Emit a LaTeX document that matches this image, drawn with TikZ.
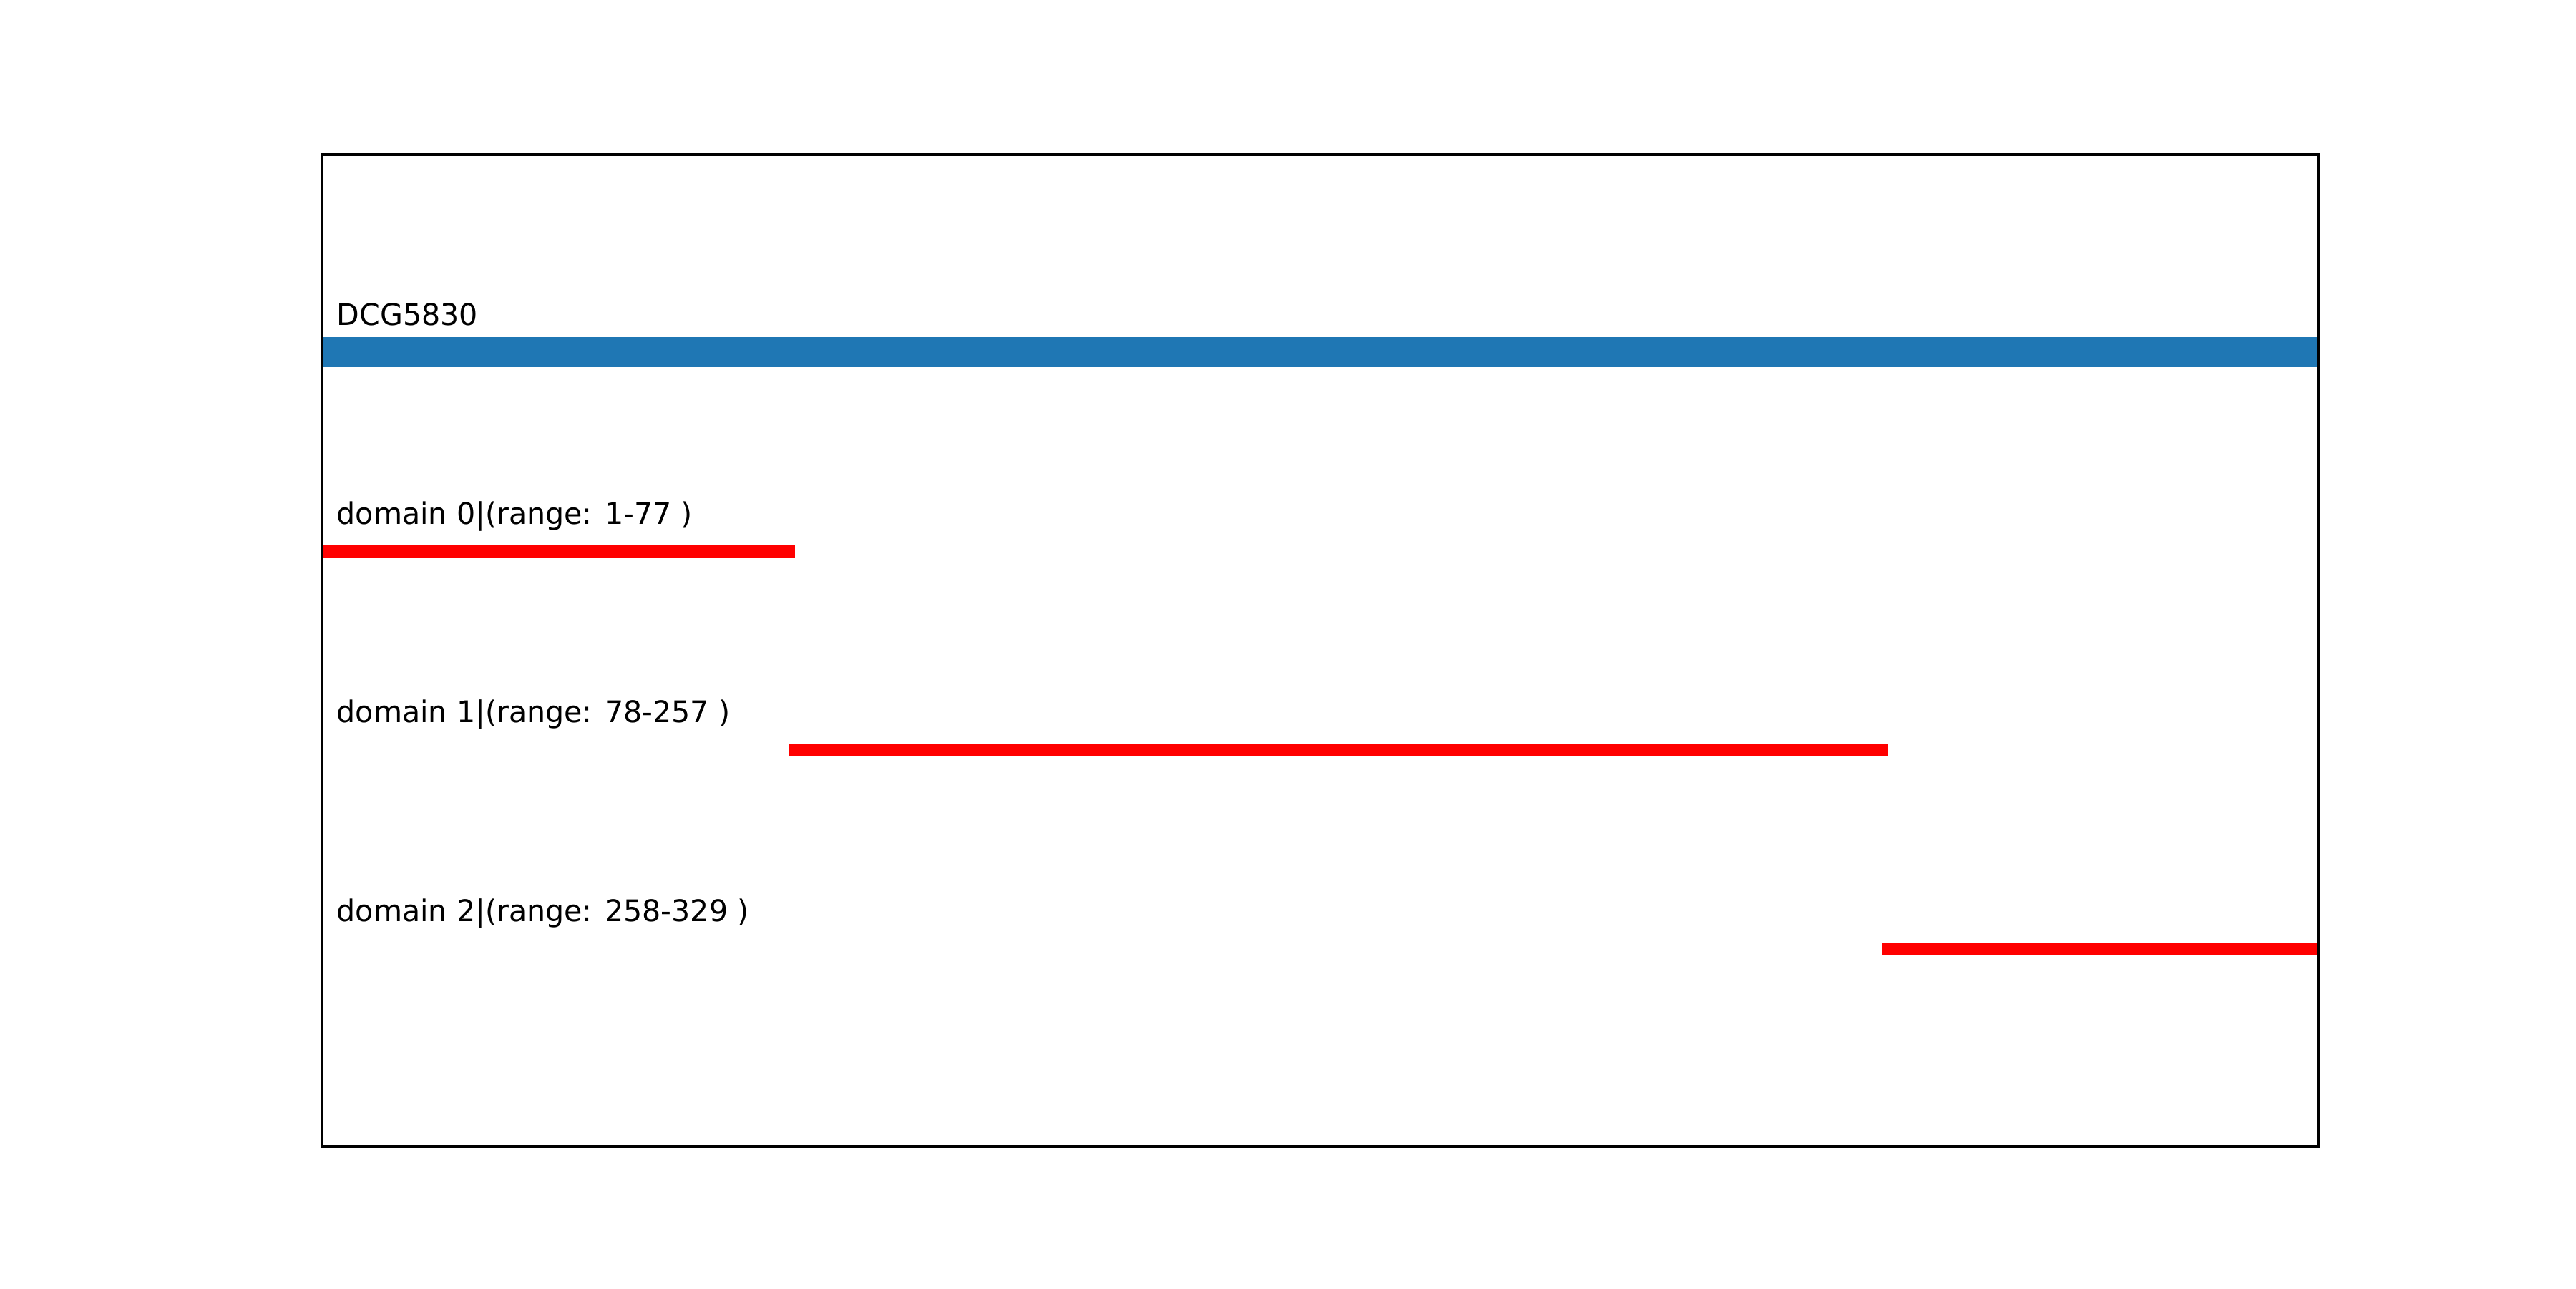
\documentclass[tikz,border=0pt]{standalone}
\usepackage{fontspec}
\setmainfont{DejaVu Sans}[FakeStretch=0.988]
\definecolor{mplblue}{HTML}{1F77B4}
\definecolor{mplred}{HTML}{FF0000}
\begin{document}
\begin{tikzpicture}[x=1bp,y=1bp,
  lbl/.style={anchor=base west,inner sep=0pt,font=\fontsize{10bp}{12bp}\selectfont},
  protbar/.style={draw=mplblue,line width=10bp,line cap=butt},
  dombar/.style={draw=mplred,line width=4bp,line cap=rect}]
\useasboundingbox (0,0) rectangle (864,432);
% data x: 0..329 -> 108..777.6
\def\px#1{108+#1*2.03526}
\begin{scope}
\clip (108,47.52) rectangle (777.6,380.16);
\draw[protbar] ({\px{0}},314) -- ({\px{329}},314);
\draw[dombar] ({\px{1}},247.1) -- ({\px{77}},247.1);
\draw[dombar] ({\px{78}},180.5) -- ({\px{257}},180.5);
\draw[dombar] ({\px{258}},113.8) -- ({\px{329}},113.8);
\end{scope}
\node[lbl] (t0) at (112.8,323) {DCG5830};
\node[lbl] (t1) at (112.8,256.3) {domain 0|(range: 1-77 )};
\node[lbl] (t2) at (112.8,189.7) {domain 1|(range: 78-257 )};
\node[lbl] (t3) at (112.8,123) {domain 2|(range: 258-329 )};
\draw[black,line width=0.8bp] (108,47.52) rectangle (777.6,380.16);
\end{tikzpicture}
\end{document}
